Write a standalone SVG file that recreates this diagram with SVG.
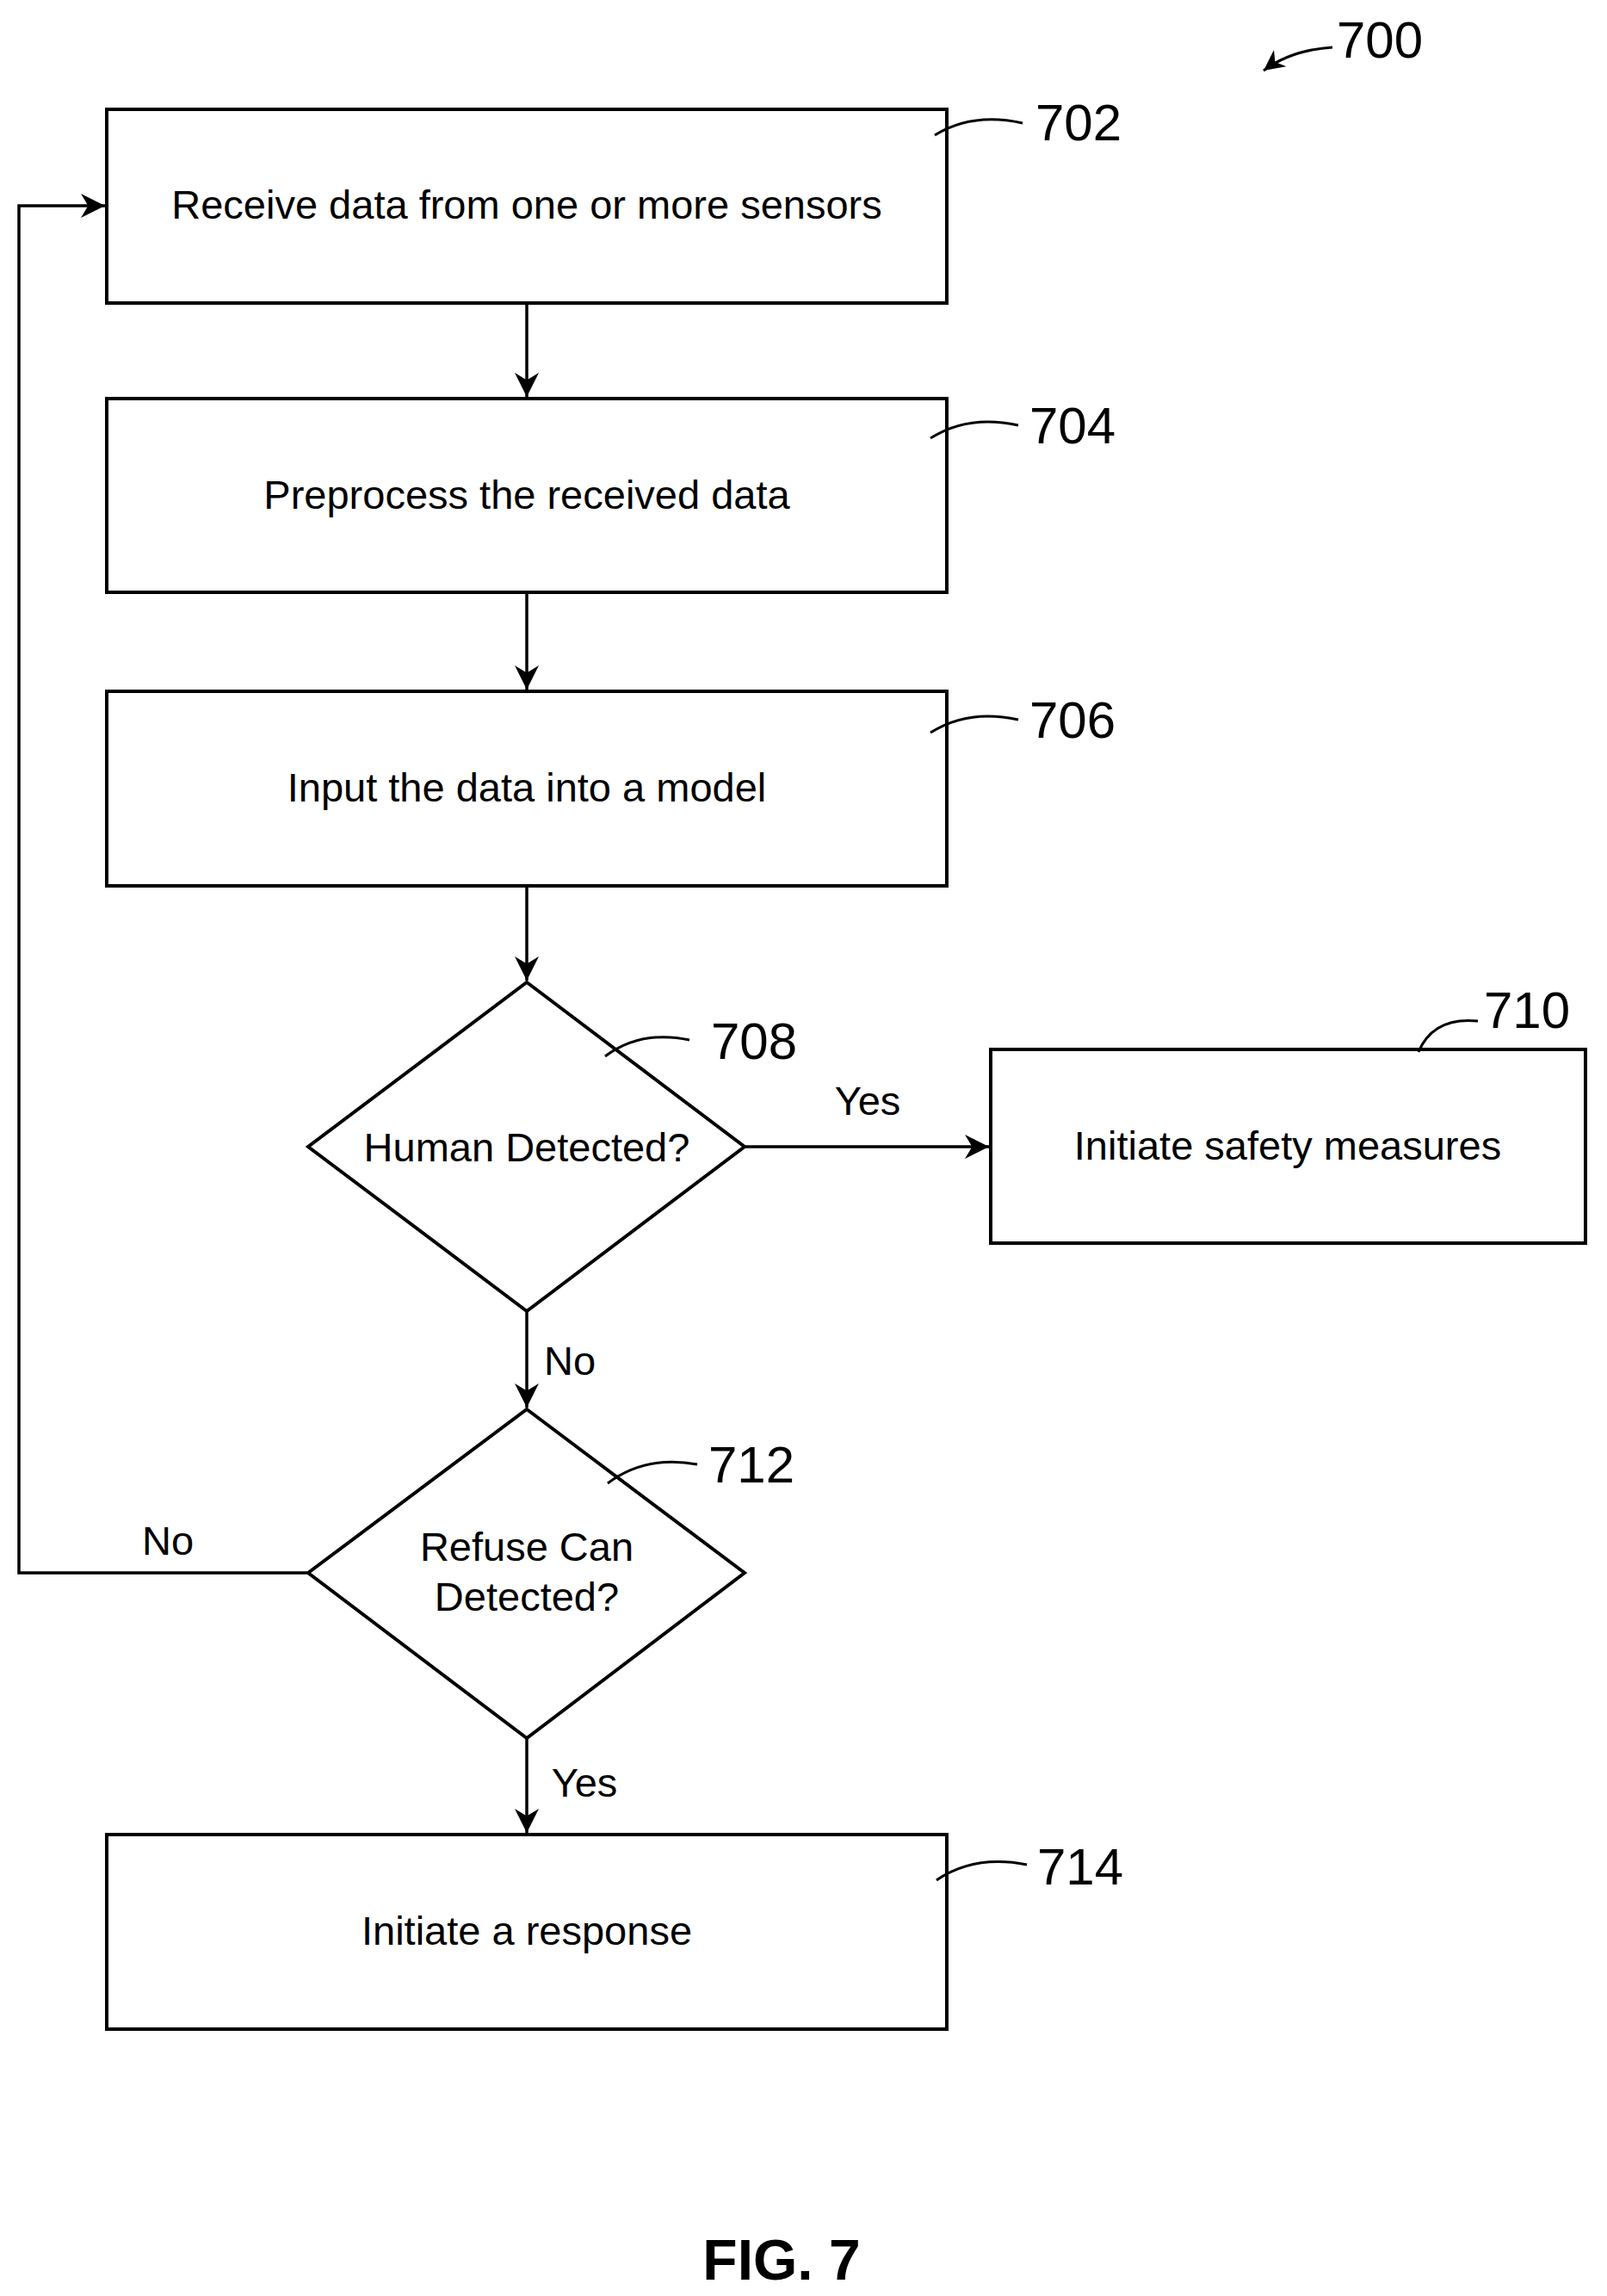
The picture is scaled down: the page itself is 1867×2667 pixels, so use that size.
<svg xmlns="http://www.w3.org/2000/svg" width="1867" height="2667" viewBox="0 0 1867 2667">
<style>
.n{fill:#fff;stroke:#000;stroke-width:4}
.t{font-family:"Liberation Sans",Arial,sans-serif;font-size:47px;text-anchor:middle;dominant-baseline:central;fill:#000}
.r{font-family:"Liberation Sans Narrow","Liberation Sans",sans-serif;font-size:60px;fill:#000}
.c{fill:none;stroke:#000;stroke-width:3.5}
.l{fill:none;stroke:#000;stroke-width:3}
</style>
<defs>
<marker id="a" viewBox="0 0 10 10" refX="10" refY="5" markerWidth="8" markerHeight="8" markerUnits="strokeWidth" orient="auto"><path d="M0,0L10,5L0,10L3,5z" fill="#000"/></marker>
</defs>
<g id="connectors">
<line class="c" x1="612" y1="350" x2="612" y2="461" marker-end="url(#a)"/>
<line class="c" x1="612" y1="688" x2="612" y2="801" marker-end="url(#a)"/>
<line class="c" x1="612" y1="1029" x2="612" y2="1139" marker-end="url(#a)"/>
<line class="c" x1="865" y1="1332" x2="1149" y2="1332" marker-end="url(#a)"/>
<line class="c" x1="612" y1="1523" x2="612" y2="1635" marker-end="url(#a)"/>
<line class="c" x1="612" y1="2019" x2="612" y2="2129" marker-end="url(#a)"/>
<polyline class="c" points="358,1827 22,1827 22,239 122,239" marker-end="url(#a)"/>
<text class="t" x="1008" y="1278">Yes</text>
<text class="t" x="662" y="1580">No</text>
<text class="t" x="195" y="1789">No</text>
<text class="t" x="679" y="2070">Yes</text>
</g>
<g id="n700"><text class="r" x="1553" y="67">700</text><path class="l" d="M1548,55 Q1500,58 1468,82" marker-end="url(#a)"/></g>
<g id="n702"><rect class="n" x="124" y="127" width="976" height="225"/><text class="t" x="612" y="237">Receive data from one or more sensors</text><path class="l" d="M1086,157 Q1130,130 1188,143"/><text class="r" x="1203" y="163">702</text></g>
<g id="n704"><rect class="n" x="124" y="463" width="976" height="225"/><text class="t" x="612" y="574">Preprocess the received data</text><path class="l" d="M1081,509 Q1125,481 1183,494"/><text class="r" x="1196" y="515">704</text></g>
<g id="n706"><rect class="n" x="124" y="803" width="976" height="226"/><text class="t" x="612" y="914">Input the data into a model</text><path class="l" d="M1081,851 Q1125,823 1183,836"/><text class="r" x="1196" y="857">706</text></g>
<g id="n708"><polygon class="n" points="612,1141 865,1332 612,1523 358,1332"/><text class="t" x="612" y="1332">Human Detected?</text><path class="l" d="M703,1227 Q745,1196 801,1208"/><text class="r" x="826" y="1230">708</text></g>
<g id="n710"><rect class="n" x="1151" y="1219" width="691" height="225"/><text class="t" x="1496" y="1330">Initiate safety measures</text><path class="l" d="M1648,1222 Q1665,1181 1717,1186"/><text class="r" x="1724" y="1194">710</text></g>
<g id="n712"><polygon class="n" points="612,1637 865,1827 612,2019 358,1827"/><text class="t" x="612" y="1796">Refuse Can</text><text class="t" x="612" y="1854">Detected?</text><path class="l" d="M706,1723 Q750,1690 810,1701"/><text class="r" x="823" y="1722">712</text></g>
<g id="n714"><rect class="n" x="124" y="2131" width="976" height="226"/><text class="t" x="612" y="2242">Initiate a response</text><path class="l" d="M1088,2184 Q1132,2154 1193,2166"/><text class="r" x="1205" y="2189">714</text></g>
<text x="908" y="2648" text-anchor="middle" font-family="Liberation Sans Narrow,Liberation Sans,sans-serif" font-weight="bold" font-size="66">FIG. 7</text>
</svg>
